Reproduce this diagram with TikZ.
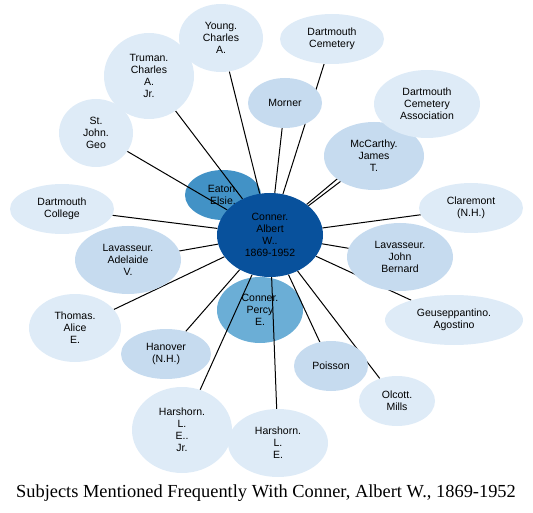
\documentclass[tikz,border=0pt]{standalone}
\usepackage{fontspec}
\setmainfont{Liberation Serif}
\setsansfont{Liberation Sans}
\usetikzlibrary{shapes.geometric}

\definecolor{deepblue}{HTML}{08519C}
\definecolor{eatonblue}{HTML}{4292C6}
\definecolor{percyblue}{HTML}{6BAED6}
\definecolor{midblue}{HTML}{C6DBEF}
\definecolor{paleblue}{HTML}{DEEBF7}

\pgfdeclarelayer{back}
\pgfdeclarelayer{links}
\pgfsetlayers{back,links,main}

\begin{document}
\begin{tikzpicture}[
    x=1pt, y=-1pt,
    subj/.style={ellipse, inner sep=0pt, align=center,
        font=\sffamily\fontsize{10.5}{12}\selectfont},
    pale/.style={subj, fill=paleblue},
    mid/.style={subj, fill=midblue},
    link/.style={line width=1pt, color=black}
]
    \useasboundingbox (0,0) rectangle (533,513);

    % nodes that lie under the links
    \begin{pgfonlayer}{back}
    \node[subj, fill=eatonblue, minimum width=76pt, minimum height=50pt] (eaton) at (223,195) {Eaton.\\Elsie.};
    \node[subj, fill=percyblue, minimum width=86pt, minimum height=66pt] (percy) at (260,310) {Conner.\\Percy\\E.};
    \end{pgfonlayer}

    \node[pale, minimum width=84pt, minimum height=68pt] (young) at (221,38) {Young.\\Charles\\A.};
    \node[pale, minimum width=90pt, minimum height=86pt] (truman) at (149,76) {Truman.\\Charles\\A.\\Jr.};
    \node[pale, minimum width=74pt, minimum height=68pt] (stjohn) at (96,133) {St.\\John.\\Geo};
    \node[pale, minimum width=104pt, minimum height=50pt] (dcollege) at (62,209) {Dartmouth\\College};
    \node[mid, minimum width=106pt, minimum height=68pt] (ladelaide) at (128,260) {Lavasseur.\\Adelaide\\V.};
    \node[pale, minimum width=92pt, minimum height=68pt] (thomas) at (75,328) {Thomas.\\Alice\\E.};
    \node[mid, minimum width=90pt, minimum height=50pt] (hanover) at (166,354) {Hanover\\(N.H.)};
    \node[pale, minimum width=100pt, minimum height=86pt] (harjr) at (182,430) {Harshorn.\\L.\\E..\\Jr.};
    \node[pale, minimum width=100pt, minimum height=68pt] (harle) at (278,443) {Harshorn.\\L.\\E.};
    \node[mid, minimum width=74pt, minimum height=50pt] (poisson) at (331,366) {Poisson};
    \node[pale, minimum width=76pt, minimum height=50pt] (olcott) at (397,401) {Olcott.\\Mills};
    \node[pale, minimum width=138pt, minimum height=50pt] (geusep) at (454,320) {Geuseppantino.\\Agostino};
    \node[mid, minimum width=106pt, minimum height=68pt] (ljohn) at (400,257) {Lavasseur.\\John\\Bernard};
    \node[pale, minimum width=104pt, minimum height=50pt] (claremont) at (471,208) {Claremont\\(N.H.)};
    \node[mid, minimum width=100pt, minimum height=68pt] (mccarthy) at (374,156) {McCarthy.\\James\\T.};
    \node[pale, minimum width=106pt, minimum height=68pt] (dcemassoc) at (427,104) {Dartmouth\\Cemetery\\Association};
    \node[pale, minimum width=104pt, minimum height=50pt] (dcem) at (332,39) {Dartmouth\\Cemetery};
    \node[mid, minimum width=74pt, minimum height=50pt] (morner) at (285,103) {Morner};

    \node[subj, fill=deepblue, minimum width=106pt, minimum height=84pt] (conner) at (270,235) {Conner.\\Albert\\W..\\1869-1952};

    \begin{pgfonlayer}{links}
    \foreach \other in {young, truman, stjohn, dcollege, ladelaide, thomas, hanover, harjr, harle,
        poisson, olcott, geusep, ljohn, claremont, mccarthy, dcemassoc, dcem, morner}
        \draw[link] (conner) -- (\other);
    \end{pgfonlayer}

    \node[font=\fontsize{18.4}{20}\selectfont, anchor=base, inner sep=0pt] (caption) at (266,497) {Subjects Mentioned Frequently With Conner, Albert W., 1869-1952};
\end{tikzpicture}
\end{document}
